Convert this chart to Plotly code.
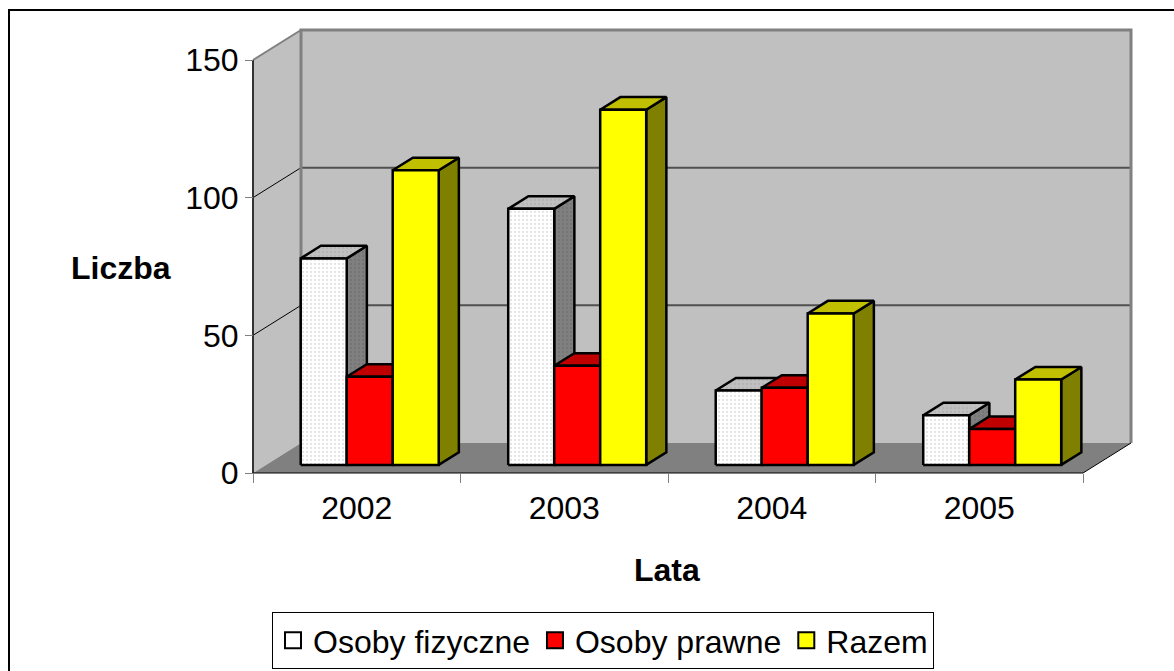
import plotly.graph_objects as go

# ---------------- data ----------------
categories = ["2002", "2003", "2004", "2005"]
osoby_fizyczne = [75, 93, 27, 18]
osoby_prawne = [32, 36, 28, 13]
razem = [107, 129, 55, 31]
series_names = ["Osoby fizyczne", "Osoby prawne", "Razem"]
y_ticks = [0, 50, 100, 150]
y_max = 150

# ---------------- styling / geometry ----------------
W, H = 1174, 671
PX0, PY0 = 253, 473           # pixel of the data origin (front plane)
PXU = 207.5                   # px per category
PYU = 413 / 150               # px per value unit
DX = 48 / PXU                 # full depth offset in x (category units)
DY = 30 / PYU                 # full depth offset in y (value units)
PAD = 4
F0, F1 = 0.27, 0.69           # bar depth (front / back fraction)
GROUP = 0.665                 # fraction of category occupied by the bar group
NCAT = len(categories)
FS = 32

FONT = "Arial, Liberation Sans, sans-serif"

left = PX0 - PAD
right = PX0 + (NCAT + DX) * PXU + PAD
top = PY0 - (y_max + DY) * PYU - PAD
bottom = PY0 + PAD


def px(x):
    return (x - left) / (right - left)


def py(y):
    return (bottom - y) / (bottom - top)


faces = [
    dict(front="#FFFFFF", top="#C0C0C0", side="#808080", pattern=True),
    dict(front="#FF0000", top="#C00000", side="#800000", pattern=False),
    dict(front="#FFFF00", top="#C0C000", side="#808000", pattern=False),
]

fig = go.Figure()


def poly(xs, ys, fill=None, line_color=None, line_width=0, pattern=None):
    kw = {}
    if fill is not None:
        kw["fill"] = "toself"
        kw["fillcolor"] = fill
    if pattern is not None:
        kw["fillpattern"] = pattern
    fig.add_trace(go.Scatter(
        x=xs, y=ys, mode="lines",
        line=dict(color=line_color if line_color else "rgba(0,0,0,0)",
                  width=line_width if line_color else 0),
        hoverinfo="skip", showlegend=False, **kw))


# walls and floor
poly([DX, NCAT + DX, NCAT + DX, DX, DX], [DY, DY, y_max + DY, y_max + DY, DY], fill="#C0C0C0")
poly([0, DX, DX, 0, 0], [0, DY, y_max + DY, y_max, 0], fill="#C0C0C0")
poly([0, NCAT, NCAT + DX, DX, 0], [0, 0, DY, DY, 0], fill="#808080")

# gridlines
for t in y_ticks[1:-1]:
    poly([DX, NCAT + DX], [t + DY, t + DY], line_color="#505050", line_width=2)
    poly([0, DX], [t, t + DY], line_color="#000000", line_width=1)

# wall edges
poly([DX, DX, NCAT + DX, NCAT + DX], [DY, y_max + DY, y_max + DY, DY], line_color="#808080", line_width=3)
poly([0, DX], [y_max, y_max + DY], line_color="#808080", line_width=2)
poly([0, 0], [0, y_max], line_color="#333333", line_width=2)
poly([0, NCAT, NCAT + DX], [0, 0, DY], line_color="#000000", line_width=1)

# bars
series_values = [osoby_fizyczne, osoby_prawne, razem]
nser = len(series_values)
bw = GROUP / nser
for i in range(NCAT):
    for s in range(nser):
        v = series_values[s][i]
        st = faces[s]
        xl = i + (1 - GROUP) / 2 + s * bw
        xr = xl + bw
        pat_side = pat_top = pat_front = None
        if st["pattern"]:
            pat_front = dict(shape=".", fgcolor="#c8c8c8", bgcolor=st["front"], size=4, solidity=0.25)
            pat_top = dict(shape=".", fgcolor="#a8a8a8", bgcolor=st["top"], size=4, solidity=0.25)
            pat_side = dict(shape=".", fgcolor="#686868", bgcolor=st["side"], size=4, solidity=0.25)
        # side
        poly([xr + F0 * DX, xr + F1 * DX, xr + F1 * DX, xr + F0 * DX, xr + F0 * DX],
             [F0 * DY, F1 * DY, v + F1 * DY, v + F0 * DY, F0 * DY],
             fill=st["side"], line_color="#000000", line_width=2.5, pattern=pat_side)
        # top
        poly([xl + F0 * DX, xr + F0 * DX, xr + F1 * DX, xl + F1 * DX, xl + F0 * DX],
             [v + F0 * DY, v + F0 * DY, v + F1 * DY, v + F1 * DY, v + F0 * DY],
             fill=st["top"], line_color="#000000", line_width=2.5, pattern=pat_top)
        # front
        poly([xl + F0 * DX, xr + F0 * DX, xr + F0 * DX, xl + F0 * DX, xl + F0 * DX],
             [F0 * DY, F0 * DY, v + F0 * DY, v + F0 * DY, F0 * DY],
             fill=st["front"], line_color="#000000", line_width=2.5, pattern=pat_front)

# legend entries
for s, name in enumerate(series_names):
    fig.add_trace(go.Scatter(
        x=[None], y=[None], mode="markers", name=name,
        marker=dict(symbol="square", size=16, color=faces[s]["front"],
                    line=dict(color="#000000", width=2)),
        showlegend=True))

fig.update_layout(
    width=W, height=H,
    margin=dict(l=left, r=W - right, t=top, b=H - bottom, pad=0, autoexpand=False),
    paper_bgcolor="white", plot_bgcolor="white",
    font=dict(family=FONT, size=FS, color="black"),
    xaxis=dict(
        range=[-PAD / PXU, NCAT + DX + PAD / PXU],
        showgrid=False, zeroline=False, showline=False,
        tickmode="array", tickvals=[i + 0.5 for i in range(NCAT)], ticktext=categories,
        ticks="", ticklabelstandoff=13,
        minor=dict(tickmode="array", tickvals=list(range(NCAT + 1)), ticks="outside",
                   ticklen=9, tickcolor="#808080", tickwidth=1, showgrid=False),
        anchor="free", position=PAD / (bottom - top),
        tickfont=dict(size=FS, family=FONT),
        fixedrange=True, automargin=False,
    ),
    yaxis=dict(
        range=[-PAD / PYU, y_max + DY + PAD / PYU],
        showgrid=False, zeroline=False, showline=False,
        tickmode="array", tickvals=y_ticks, ticktext=[str(t) for t in y_ticks],
        ticks="outside", ticklen=8, tickcolor="#808080", tickwidth=1,
        anchor="free", position=PAD / (right - left),
        tickfont=dict(size=FS, family=FONT),
        fixedrange=True, automargin=False,
    ),
    showlegend=True,
    legend=dict(
        orientation="h", x=px(272), xanchor="left", y=py(612), yanchor="top",
        bgcolor="white", bordercolor="#000000", borderwidth=1,
        font=dict(size=FS, family=FONT),
        traceorder="normal",
    ),
    annotations=[
        dict(text="<b>Liczba</b>", xref="paper", yref="paper", x=px(121), y=py(268),
             xanchor="center", yanchor="middle", showarrow=False, font=dict(size=FS, family=FONT)),
        dict(text="<b>Lata</b>", xref="paper", yref="paper", x=px(667), y=py(570),
             xanchor="center", yanchor="middle", showarrow=False, font=dict(size=FS, family=FONT)),
    ],
    shapes=[
        dict(type="rect", xref="paper", yref="paper", x0=px(9), y0=py(10), x1=px(1190), y1=py(690),
             line=dict(color="#000000", width=2), fillcolor="rgba(0,0,0,0)", layer="below"),
    ],
)

fig.write_html(
    "out.html",
    config={"displayModeBar": False},
    post_script="document.body.style.margin='0';document.documentElement.style.overflow='hidden';",
)
